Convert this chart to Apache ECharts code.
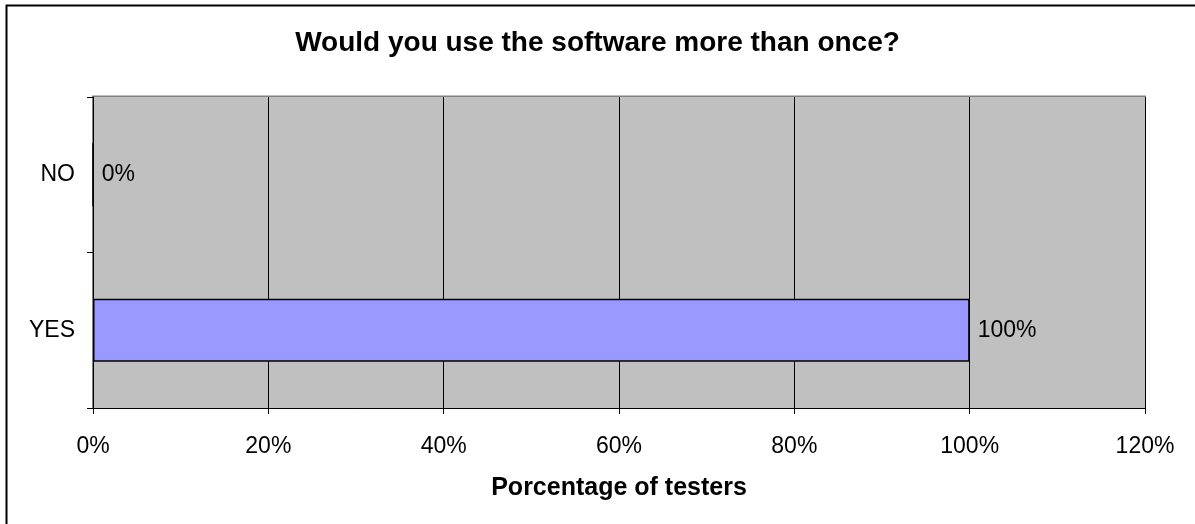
<!DOCTYPE html>
<html>
<head>
<meta charset="utf-8">
<script src="https://cdn.jsdelivr.net/npm/echarts@6/dist/echarts.min.js"></script>
<style>
html,body{margin:0;padding:0;background:#fff;}
#c{width:1195px;height:524px;}
</style>
</head>
<body>
<div id="c"></div>
<script>
const categories = ['YES', 'NO'];
const values = [100, 0];
const xTicks = [0, 20, 40, 60, 80, 100, 120];

const chart = echarts.init(document.getElementById('c'), null, {renderer: 'canvas'});
const font = '"Liberation Sans", Arial, sans-serif';
chart.setOption({
  animation: false,
  backgroundColor: '#ffffff',
  title: {
    text: 'Would you use the software more than once?',
    left: 'center', top: 24,
    textStyle: {fontFamily: font, fontSize: 28, fontWeight: 'bold', color: '#000'}
  },
  graphic: [
    {type: 'rect', shape: {x: 6.5, y: 5.5, width: 1300, height: 600}, style: {fill: null, stroke: '#000', lineWidth: 2}, silent: true},
    {type: 'rect', shape: {x: 93, y: 96.5, width: 1052, height: 311.5}, style: {fill: null, stroke: '#808080', lineWidth: 2}, silent: true, z: -1}
  ],
  grid: {left: 93, top: 97, width: 1052, height: 311, containLabel: false, show: true, backgroundColor: '#c0c0c0', borderWidth: 0},
  xAxis: {
    type: 'value', min: 0, max: 120, interval: 20,
    name: 'Porcentage of testers', nameLocation: 'middle', nameGap: 68,
    nameTextStyle: {fontFamily: font, fontSize: 25, fontWeight: 'bold', color: '#000'},
    axisLine: {show: true, lineStyle: {color: '#000', width: 1}},
    axisTick: {show: true, length: 6, inside: false, lineStyle: {color: '#000'}},
    axisLabel: {fontFamily: font, fontSize: 23, color: '#000', margin: 27, formatter: v => xTicks.includes(v) ? v + '%' : ''},
    splitLine: {show: true, lineStyle: {color: '#000', width: 1}}
  },
  yAxis: {
    type: 'category', data: categories,
    axisLine: {show: true, lineStyle: {color: '#000', width: 1}},
    axisTick: {show: true, length: 6, lineStyle: {color: '#000'}},
    axisLabel: {fontFamily: font, fontSize: 23, color: '#000', margin: 18},
    splitLine: {show: false}
  },
  series: [{
    type: 'bar', data: values, barWidth: '40.5%',
    itemStyle: {color: '#9999ff', borderColor: '#000', borderWidth: 1.5},
    label: {show: true, position: 'right', distance: 8, formatter: p => p.value + '%', fontFamily: font, fontSize: 23, color: '#000'}
  }]
});
</script>
</body>
</html>
